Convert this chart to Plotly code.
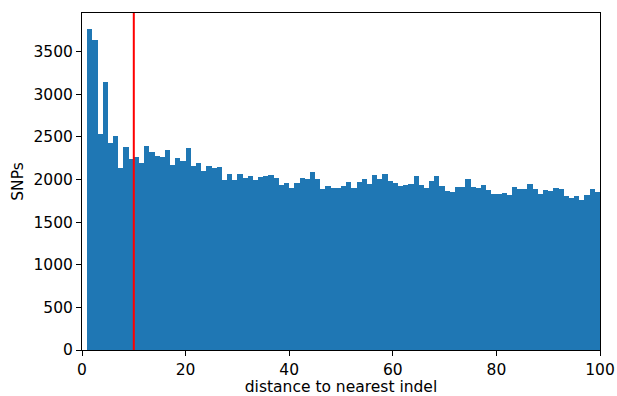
import plotly.graph_objects as go

# bin left edges (distance to nearest indel), width 1
bin_left = list(range(1, 100))
snp_counts = [
    3766, 3637, 2534, 3144, 2428, 2511, 2135, 2381, 2241, 2264,
    2194, 2393, 2323, 2276, 2264, 2346, 2170, 2252, 2217, 2370,
    2159, 2194, 2100, 2159, 2135, 2147, 1994, 2065, 1994, 2065,
    2018, 2041, 1994, 2030, 2041, 2053, 2018, 1936, 1959, 1900,
    1959, 2018, 2006, 2088, 2006, 1889, 1924, 1900, 1900, 1924,
    1971, 1900, 1971, 2006, 1947, 2053, 2006, 2065, 1983, 1959,
    1924, 1936, 1947, 2041, 1936, 1900, 1983, 2041, 1924, 1865,
    1854, 1912, 1912, 2006, 1912, 1900, 1936, 1877, 1830, 1830,
    1842, 1818, 1912, 1889, 1889, 1947, 1889, 1830, 1877, 1865,
    1900, 1889, 1807, 1783, 1807, 1760, 1818, 1889, 1854,
]
threshold = 10
x_ticks = [0, 20, 40, 60, 80, 100]
y_ticks = [0, 500, 1000, 1500, 2000, 2500, 3000, 3500]

centers = [b + 0.5 for b in bin_left]

fig = go.Figure()
fig.add_trace(go.Bar(x=centers, y=snp_counts, width=1,
                     marker=dict(color="#1f77b4", line=dict(width=0))))

fig.add_shape(type="line", xref="x", yref="paper", x0=threshold, x1=threshold,
              y0=0, y1=1, line=dict(color="red", width=2))

font = dict(family="DejaVu Sans", size=15.5, color="#000000")
fig.update_layout(
    width=617, height=396,
    margin=dict(l=82, r=17, t=13, b=46),
    plot_bgcolor="white", paper_bgcolor="white",
    bargap=0, showlegend=False, font=font,
)
fig.update_xaxes(range=[0, 100], tickvals=x_ticks, ticks="outside", ticklen=5,
                 tickwidth=1, tickcolor="black", showline=True, linecolor="black",
                 linewidth=1, mirror=True, showgrid=False, zeroline=False,
                 automargin=False,
                 title=dict(text="distance to nearest indel", font=font, standoff=4))
fig.update_yaxes(range=[0, 3953], tickvals=y_ticks, ticks="outside", ticklen=5,
                 tickwidth=1, tickcolor="black", showline=True, linecolor="black",
                 linewidth=1, mirror=True, showgrid=False, zeroline=False,
                 automargin=False,
                 title=dict(text="SNPs", font=font, standoff=6))

fig.write_html("out.html",
               config={"displayModeBar": False},
               post_script="document.body.style.margin='0';"
                           "document.body.style.overflow='hidden';")
